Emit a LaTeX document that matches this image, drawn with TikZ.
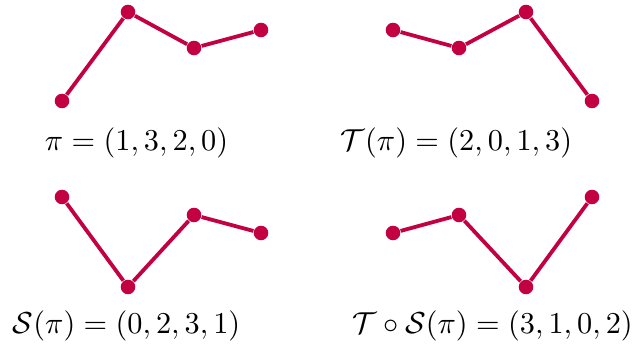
\documentclass[tikz,border=0pt]{standalone}
\usepackage{amsmath, amssymb}
\definecolor{crimson}{RGB}{194,0,66}

\begin{document}
\begin{tikzpicture}[x=0.33pt, y=-0.33pt,
    dot/.style={circle, fill=crimson, inner sep=0pt, minimum size=4.8pt},
    link/.style={crimson, line width=1.25pt}]
    \useasboundingbox (0,0) rectangle (641,346);

    % Draw nodes
    \node[dot] (p1) at (62,101) {};
    \node[dot] (p2) at (128,12) {};
    \node[dot] (p3) at (194,48) {};
    \node[dot] (p4) at (261,30) {};

    \node[dot] (t1) at (393,30) {};
    \node[dot] (t2) at (459,48) {};
    \node[dot] (t3) at (526,12) {};
    \node[dot] (t4) at (592,101) {};

    \node[dot] (s1) at (62,197) {};
    \node[dot] (s2) at (128,287) {};
    \node[dot] (s3) at (194,215) {};
    \node[dot] (s4) at (261,233) {};

    \node[dot] (ts1) at (393,233) {};
    \node[dot] (ts2) at (459,215) {};
    \node[dot] (ts3) at (526,287) {};
    \node[dot] (ts4) at (592,197) {};

    % Draw connections
    \draw[link] (p1) -- (p2) -- (p3) -- (p4);
    \draw[link] (t1) -- (t2) -- (t3) -- (t4);
    \draw[link] (s1) -- (s2) -- (s3) -- (s4);
    \draw[link] (ts1) -- (ts2) -- (ts3) -- (ts4);

    % Labels
    \node (lp) at (136.5,142.5) {$\pi = (1,3,2,0)$};
    \node (lt) at (456.5,142.5) {$\mathcal{T}(\pi) = (2,0,1,3)$};
    \node (ls) at (126.5,326) {$\mathcal{S}(\pi) = (0,2,3,1)$};
    \node (lts) at (492.5,326) {$\mathcal{T} \circ \mathcal{S}(\pi) = (3,1,0,2)$};
\end{tikzpicture}
\end{document}
